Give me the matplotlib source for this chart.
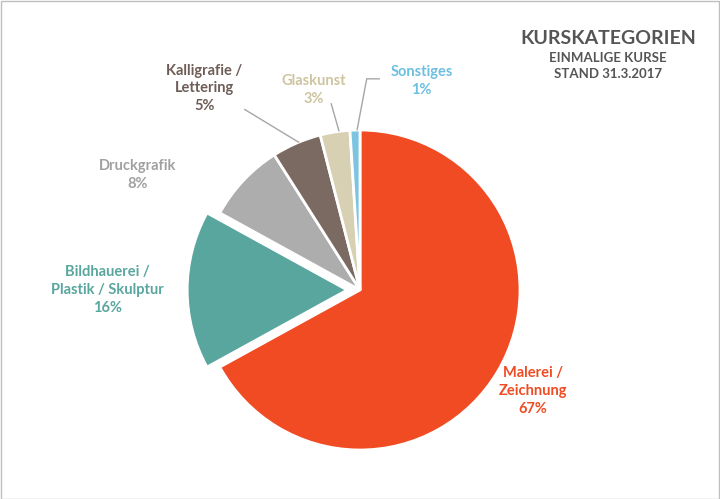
import matplotlib
matplotlib.use("Agg")
import matplotlib.pyplot as plt
import numpy as np

labels = ["Malerei /\nZeichnung", "Bildhauerei /\nPlastik / Skulptur", "Druckgrafik",
          "Kalligrafie /\nLettering", "Glaskunst", "Sonstiges"]
values = [67, 16, 8, 5, 3, 1]
colors = ["#F04B23", "#58A69E", "#ADADAD", "#7B6A62", "#D8D0B2", "#7CC4E0"]
explode = [0, 0.08, 0, 0, 0, 0]

plt.rcParams['font.family'] = ['Lato', 'DejaVu Sans']
fig = plt.figure(figsize=(7.2, 4.99), dpi=100)
ax = fig.add_axes([160/720, 9/499, 400/720, 400/499])
ax.set_xlim(-1.2, 1.2); ax.set_ylim(-1.2, 1.2); ax.set_aspect('equal'); ax.axis('off')
wedges, _ = ax.pie(values, colors=colors, startangle=90, counterclock=False, explode=explode,
                   wedgeprops=dict(edgecolor='white', linewidth=2))

def px(x, y):
    return ((x-360)/166.7, (290-y)/166.7)

pos = [(540, 395), (97, 290), (128, 170), (198, 80), (312, 82), (424, 72)]
txtcol = ["#F04B23", "#58A69E", "#A0A0A0", "#6E5D56", "#CFC4A0", "#6CBFE0"]
for lab, v, p, c in zip(labels, values, pos, txtcol):
    x, y = px(*p)
    ax.text(x, y, f"{lab}\n{v}%", ha='center', va='center', color=c, fontsize=10.5,
            fontweight='bold', linespacing=1.35, clip_on=False)

lc = "#A6A6A6"
for pts in [[(240, 102), (296, 136)], [(330, 96), (338, 124)], [(380, 70), (367, 70), (357, 123)]]:
    xs, ys = zip(*[px(*q) for q in pts])
    ax.plot(xs, ys, color=lc, lw=1, clip_on=False)

fig.text(608/720, 1-38/499, "KURSKATEGORIEN", ha='center', va='center', fontsize=14,
         fontweight='bold', color='#555555')
fig.text(608/720, 1-66/499, "EINMALIGE KURSE\nSTAND 31.3.2017", ha='center', va='center',
         fontsize=9.5, fontweight='bold', color='#555555', linespacing=1.5)
fig.patches.append(plt.Rectangle((0.001, 0.001), 0.997, 0.997, transform=fig.transFigure,
                                 fill=False, edgecolor='#BFBFBF', lw=1))
fig.savefig("out.png", dpi=100)
